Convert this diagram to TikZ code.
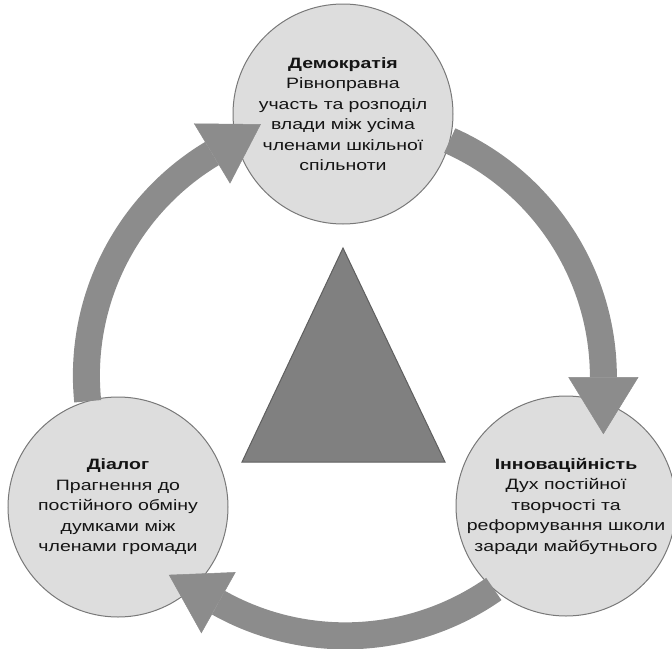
\documentclass[tikz,border=0pt]{standalone}
\usepackage{fontspec}
\setmainfont{Liberation Sans}[FakeStretch=1.30]
\usetikzlibrary{arrows.meta}
\definecolor{circfill}{RGB}{221,221,221}
\definecolor{circline}{RGB}{120,120,120}
\definecolor{arrgray}{RGB}{140,140,140}
\definecolor{trifill}{RGB}{128,128,128}
\definecolor{triline}{RGB}{95,95,95}
\begin{document}
\begin{tikzpicture}[x=1pt,y=-1pt,
  bubble/.style={circle, draw=circline, line width=1pt, fill=circfill,
    minimum size=220pt, inner sep=0pt, outer sep=0pt, align=center,
    font=\fontsize{15}{20.5}\selectfont, text=black!92},
  flow/.style={draw=arrgray, line width=27pt,
    -{Triangle[length=57pt,width=70pt,line width=0.5pt]}},
]
\useasboundingbox (0,0) rectangle (672,648);
\coordinate (C) at (344,376);
\draw[fill=trifill, draw=triline, line width=1pt] (343,248) -- (445,462) -- (242,462) -- cycle;
\node[bubble] (dem) at (343,114) {\textbf{Демократія}\\Рівноправна\\участь та розподіл\\влади між усіма\\членами шкільної\\спільноти};
\node[bubble] (inn) at (566,506) {\textbf{Інноваційність}\\Дух постійної\\творчості та\\реформування школи\\заради майбутнього};
\node[bubble] (dia) at (118,507) {\textbf{Діалог}\\Прагнення до\\постійного обміну\\думками між\\членами громади};
\draw[flow] (dem.-14.5) arc[start angle=294, end angle=360, radius=259] -- ++(90:57);
\draw[flow] (inn.-131.8) arc[start angle=55, end angle=119.3, radius=259] -- ++(209.3:57);
\draw[flow] (dia.106.8) arc[start angle=174.3, end angle=239, radius=259] -- ++(329:57);
\end{tikzpicture}
\end{document}
